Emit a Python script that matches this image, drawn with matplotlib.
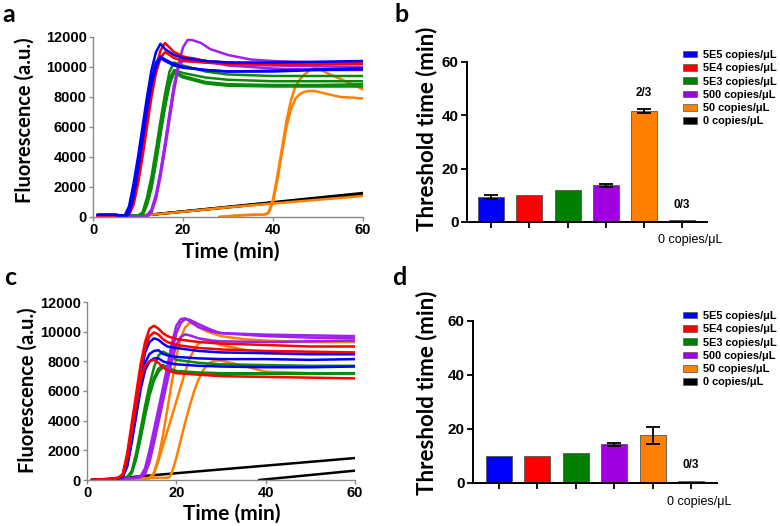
import matplotlib
matplotlib.use("Agg")
import matplotlib.pyplot as plt
from matplotlib.patches import Patch
from matplotlib.transforms import ScaledTranslation

# ---------------- data ----------------
series_names = ["5E5 copies/\u03bcL", "5E4 copies/\u03bcL", "5E3 copies/\u03bcL",
                "500 copies/\u03bcL", "50 copies/\u03bcL", "0 copies/\u03bcL"]
line_colors = ["#0000FF", "#FF0000", "#0A8A0A", "#A020F0", "#FF8000", "#000000"]
bar_colors = ["#0000FF", "#FF0000", "#008000", "#A000E0", "#FF8000", "#000000"]

# Panel a curves: (times, values) per replicate
a_blue = [
    ([1, 5, 7, 8, 9, 10, 11, 12, 13, 14, 15, 16, 18, 20, 25, 30, 40, 50, 60],
     [150, 150, 80, 700, 2200, 4000, 6000, 8000, 9800, 11000, 11550, 11200, 10800, 10600, 10400, 10300, 10300, 10350, 10400]),
    ([1, 5, 7, 8, 9, 10, 11, 12, 13, 14, 15, 16, 18, 20, 25, 30, 40, 50, 60],
     [150, 150, 50, 400, 1800, 3600, 5600, 7600, 9200, 10300, 10700, 10500, 10200, 10000, 9800, 9700, 9700, 9800, 9850]),
    ([1, 5, 7, 8, 9, 10, 11, 12, 13, 14, 15, 16, 18, 20, 25, 30, 40, 50, 60],
     [150, 150, 0, 200, 1300, 3100, 5100, 7100, 8800, 10000, 10600, 10400, 10100, 9950, 9800, 9700, 9750, 9850, 9900]),
]
a_red = [
    ([1, 5, 7, 8, 9, 10, 11, 12, 13, 14, 15, 16, 17, 18, 20, 25, 30, 40, 50, 60],
     [100, 100, 50, 200, 1000, 2500, 4400, 6400, 8400, 10000, 11100, 11600, 11300, 11000, 10700, 10400, 10300, 10200, 10200, 10250]),
    ([1, 5, 7, 8, 9, 10, 11, 12, 13, 14, 15, 16, 17, 18, 20, 25, 30, 40, 50, 60],
     [100, 100, 50, 150, 800, 2200, 4000, 6000, 8000, 9600, 10600, 11000, 10800, 10600, 10400, 10300, 10200, 10200, 10200, 10200]),
]
a_green = [
    ([1, 9, 10, 11, 12, 13, 14, 15, 16, 17, 18, 20, 25, 30, 40, 50, 60],
     [100, 100, 100, 300, 1300, 2700, 4500, 6400, 8200, 9700, 10300, 10100, 9700, 9500, 9400, 9400, 9400]),
    ([1, 9, 10, 11, 12, 13, 14, 15, 16, 17, 18, 20, 25, 30, 40, 50, 60],
     [100, 100, 80, 200, 1100, 2400, 4100, 6000, 7800, 9200, 9800, 9600, 9300, 9150, 9050, 9050, 9050]),
    ([1, 9, 10, 11, 12, 13, 14, 15, 16, 17, 18, 20, 25, 30, 40, 50, 60],
     [100, 100, 60, 150, 900, 2100, 3800, 5700, 7500, 9000, 9700, 9400, 9000, 8850, 8800, 8800, 8850]),
    ([1, 9, 10, 11, 12, 13, 14, 15, 16, 17, 18, 20, 25, 30, 40, 50, 60],
     [100, 100, 50, 100, 800, 1900, 3600, 5500, 7300, 8800, 9600, 9300, 8900, 8750, 8700, 8700, 8700]),
]
a_purple = [
    ([1, 10, 11, 12, 13, 14, 15, 16, 17, 18, 19, 20, 21, 22, 24, 26, 30, 35, 40, 50, 60],
     [50, 50, 50, 100, 500, 1500, 3000, 4800, 6700, 8600, 10200, 11300, 11800, 11800, 11600, 11200, 10800, 10500, 10400, 10300, 10300]),
    ([1, 10, 11, 12, 13, 14, 15, 16, 17, 18, 19, 20, 22, 25, 30, 40, 50, 60],
     [50, 50, 50, 50, 300, 1200, 2700, 4500, 6500, 8400, 10000, 10500, 10600, 10400, 10100, 9900, 9800, 9800]),
    ([1, 10, 11, 12, 13, 14, 15, 16, 17, 18, 19, 20, 22, 25, 30, 40, 50, 60],
     [50, 50, 50, 50, 400, 1400, 3000, 4900, 6900, 8800, 10100, 10400, 10400, 10300, 10200, 10100, 10050, 10000]),
]
a_orange = [
    ([28, 30, 33, 36, 38, 39, 40, 41, 42, 43, 44, 45, 46, 47, 48, 49, 50, 52, 55, 58, 60],
     [0, 50, 120, 150, 150, 300, 1200, 2800, 4600, 6400, 7800, 8700, 9200, 9500, 9750, 9900, 9900, 9600, 9200, 8800, 8500]),
    ([28, 30, 33, 36, 38, 39, 40, 41, 42, 43, 44, 45, 46, 47, 48, 49, 50, 52, 55, 58, 60],
     [0, 50, 120, 150, 150, 250, 1000, 2500, 4300, 6000, 7200, 7900, 8200, 8350, 8400, 8400, 8350, 8200, 8000, 7950, 7900]),
    ([11, 20, 30, 40, 50, 60],
     [100, 350, 650, 900, 1150, 1400]),
]
a_black = [
    ([11, 60], [100, 1600]),
    ([11, 60], [100, 1550]),
    ([11, 60], [100, 1500]),
]

# Panel c curves
c_blue = [
    ([1, 5, 7, 8, 9, 10, 11, 12, 13, 14, 15, 16, 17, 18, 20, 25, 30, 40, 50, 60],
     [0, 50, 100, 250, 1200, 3000, 5000, 7000, 8600, 9300, 9550, 9450, 9200, 9000, 8900, 8700, 8600, 8550, 8500, 8500]),
    ([1, 5, 7, 8, 9, 10, 11, 12, 13, 14, 15, 16, 17, 18, 20, 25, 30, 40, 50, 60],
     [0, 50, 100, 200, 1000, 2700, 4600, 6500, 7900, 8500, 8700, 8750, 8500, 8400, 8300, 8200, 8150, 8150, 8100, 8150]),
    ([1, 5, 7, 8, 9, 10, 11, 12, 13, 14, 15, 16, 17, 18, 20, 25, 30, 40, 50, 60],
     [0, 50, 100, 200, 900, 2500, 4300, 6100, 7400, 8000, 8200, 8200, 8000, 7900, 7800, 7700, 7650, 7600, 7600, 7650]),
]
c_red = [
    ([1, 5, 7, 8, 9, 10, 11, 12, 13, 14, 15, 16, 17, 18, 20, 25, 30, 40, 50, 60],
     [0, 50, 150, 400, 1800, 3800, 5800, 7800, 9300, 10200, 10400, 10200, 9900, 9700, 9500, 9300, 9200, 9100, 9000, 9000]),
    ([1, 5, 7, 8, 9, 10, 11, 12, 13, 14, 15, 16, 17, 18, 20, 25, 30, 40, 50, 60],
     [0, 50, 150, 350, 1600, 3500, 5500, 7400, 8900, 9700, 9950, 9800, 9500, 9300, 9100, 8900, 8800, 8700, 8650, 8600]),
    ([1, 5, 7, 8, 9, 10, 11, 12, 13, 14, 15, 16, 17, 18, 20, 25, 30, 40, 50, 60],
     [0, 50, 150, 300, 1400, 3200, 5000, 6700, 7700, 8000, 8100, 7900, 7600, 7400, 7200, 7100, 7000, 6950, 6900, 6850]),
]
c_green = [
    ([1, 5, 8, 9, 10, 11, 12, 13, 14, 15, 16, 17, 18, 19, 20, 25, 30, 40, 50, 60],
     [0, 50, 150, 200, 600, 1800, 3400, 5000, 6400, 7600, 8400, 8650, 8500, 8300, 8100, 7900, 7800, 7750, 7700, 7700]),
    ([1, 5, 8, 9, 10, 11, 12, 13, 14, 15, 16, 17, 18, 19, 20, 25, 30, 40, 50, 60],
     [0, 50, 150, 200, 500, 1500, 3000, 4500, 5900, 6900, 7500, 7750, 7600, 7450, 7350, 7250, 7200, 7200, 7200, 7200]),
    ([1, 5, 8, 9, 10, 11, 12, 13, 14, 15, 16, 17, 18, 19, 20, 25, 30, 40, 50, 60],
     [0, 50, 150, 200, 450, 1400, 2800, 4300, 5700, 6700, 7300, 7600, 7500, 7350, 7250, 7200, 7150, 7150, 7150, 7180]),
]
c_purple = [
    ([1, 8, 11, 12, 13, 14, 15, 16, 17, 18, 19, 20, 21, 22, 23, 25, 28, 30, 40, 50, 60],
     [0, 100, 150, 250, 800, 2000, 3400, 4800, 6200, 7700, 9200, 10400, 10850, 10900, 10700, 10300, 10000, 9900, 9800, 9750, 9700]),
    ([1, 8, 11, 12, 13, 14, 15, 16, 17, 18, 19, 20, 21, 22, 23, 25, 28, 30, 40, 50, 60],
     [0, 100, 150, 200, 500, 1400, 2800, 4200, 5700, 7100, 8600, 9900, 10600, 10850, 10800, 10500, 10100, 9900, 9700, 9600, 9550]),
    ([1, 8, 11, 12, 13, 14, 15, 16, 17, 18, 19, 20, 21, 22, 23, 25, 28, 30, 40, 50, 60],
     [0, 100, 150, 200, 400, 1200, 2500, 3900, 5300, 6700, 8000, 9100, 9650, 9820, 9750, 9550, 9400, 9350, 9300, 9350, 9400]),
]
c_orange = [
    ([1, 10, 13, 14, 15, 16, 17, 18, 19, 20, 21, 22, 23, 24, 25, 27, 30, 35, 40, 50, 60],
     [0, 100, 100, 150, 500, 1500, 3000, 4800, 6600, 8300, 9600, 10300, 10600, 10500, 10300, 10000, 9700, 9500, 9400, 9300, 9300]),
    ([1, 10, 14, 15, 16, 17, 18, 19, 20, 21, 22, 23, 24, 25, 26, 28, 30, 35, 40, 50, 60],
     [0, 100, 100, 400, 1300, 2300, 3300, 4300, 5300, 6300, 7300, 8200, 8800, 9200, 9350, 9300, 9100, 8800, 8550, 8450, 8450]),
    ([1, 10, 15, 18, 18.5, 19, 20, 21, 22, 23, 24, 25, 26, 27, 28, 29, 30, 35, 40, 50, 60],
     [0, 100, 150, 150, 200, 500, 1500, 2700, 3900, 5000, 6000, 6800, 7400, 7800, 8000, 8050, 8050, 7700, 7300, 7200, 7200]),
]
c_black = [
    ([1, 8, 60], [0, 150, 1480]),
    ([38.5, 60], [0, 630]),
]

# Panel b / d bar data
bar_labels = ["", "", "", "", "", "0 copies/\u03bcL"]
b_means = [9.3, 10.1, 12.0, 13.8, 41.6, 0.8]
b_errs = [0.7, 0.0, 0.0, 0.6, 0.8, 0.0]
b_notes = {4: "2/3", 5: "0/3"}
d_means = [10.0, 10.0, 11.0, 14.3, 17.6, 0.8]
d_errs = [0.0, 0.0, 0.0, 0.6, 3.0, 0.0]
d_notes = {5: "0/3"}

curve_ticks_x = [0, 20, 40, 60]
curve_ticks_y = [0, 2000, 4000, 6000, 8000, 10000, 12000]
bar_ticks_y = [0, 20, 40, 60]

# ---------------- drawing ----------------
W, H = 780, 526
fig = plt.figure(figsize=(W / 100, H / 100), dpi=100)

def px_axes(l, r, t, b):
    return fig.add_axes([l / W, 1 - b / H, (r - l) / W, (b - t) / H])

LABEL_FONT = "Lato"
TICK_FONT = "Liberation Sans"

def curve_panel(ax, groups, ylab_xy, xlab_xy):
    for color, curves in groups:
        for t, v in curves:
            ax.plot(t, v, color=color, lw=1.8, solid_capstyle="round", solid_joinstyle="round")
    ax.set_xlim(0, 60)
    ax.set_ylim(0, 12000)
    ax.set_xticks(curve_ticks_x)
    ax.set_yticks(curve_ticks_y)
    for s in ["top", "right"]:
        ax.spines[s].set_visible(False)
    for s in ["left", "bottom"]:
        ax.spines[s].set_color("#8a8a8a")
        ax.spines[s].set_linewidth(1.0)
    ax.tick_params(direction="out", length=3, width=1.0, color="#8a8a8a", pad=1.5)
    for lab in ax.get_xticklabels() + ax.get_yticklabels():
        lab.set_fontfamily(TICK_FONT)
        lab.set_fontweight("bold")
        lab.set_fontsize(10.5)
    ax.set_ylabel("Fluorescence (a.u.)", fontfamily=LABEL_FONT, fontweight="bold", fontsize=14.5)
    ax.set_xlabel("Time (min)", fontfamily=LABEL_FONT, fontweight="bold", fontsize=15)
    ax.yaxis.set_label_coords(*ylab_xy)
    ax.xaxis.set_label_coords(*xlab_xy)
    ax.xaxis.label.set_va("top")

def bar_panel(ax, means, errs, notes, xlim, ylab_xy, leg_xy):
    x = list(range(len(means)))
    ax.bar(x, means, width=0.68, color=bar_colors, edgecolor="#555555", linewidth=0.6, zorder=2)
    for i, (m, e) in enumerate(zip(means, errs)):
        if e > 0:
            ax.errorbar(i, m, yerr=e, color="black", capsize=5, capthick=1.3, elinewidth=1.3, zorder=3)
    for i, s in notes.items():
        ax.text(i, means[i] + errs[i] + 3.5, s, ha="center", va="bottom",
                fontfamily=TICK_FONT, fontweight="bold", fontsize=8.5)
    ax.set_xlim(*xlim)
    ax.set_ylim(0, 60)
    ax.set_yticks(bar_ticks_y)
    ax.set_xticks(x)
    ax.set_xticklabels(bar_labels, fontfamily=TICK_FONT, fontsize=9)
    for s in ["top", "right"]:
        ax.spines[s].set_visible(False)
    ax.spines["left"].set_linewidth(1.4)
    ax.spines["bottom"].set_linewidth(1.4)
    ax.tick_params(axis="y", direction="out", length=4, width=1.3, pad=2)
    ax.tick_params(axis="x", direction="out", length=4, width=1.3, pad=5)
    for lab in ax.get_yticklabels():
        lab.set_fontfamily(TICK_FONT)
        lab.set_fontweight("bold")
        lab.set_fontsize(11)
    # nudge the last category label slightly to the right, as in the original
    last = ax.get_xticklabels()[-1]
    last.set_transform(last.get_transform() + ScaledTranslation(8 / 100, 0, fig.dpi_scale_trans))
    ax.set_ylabel("Threshold time (min)", fontfamily=LABEL_FONT, fontweight="bold", fontsize=16)
    ax.yaxis.set_label_coords(*ylab_xy)
    handles = [Patch(facecolor=c, edgecolor="#555555", linewidth=0.5) for c in bar_colors]
    ax.legend(handles, series_names, loc="upper left", bbox_to_anchor=(leg_xy[0] / W, 1 - leg_xy[1] / H),
              bbox_transform=fig.transFigure, frameon=False, borderpad=0, borderaxespad=0,
              handlelength=1.3, handleheight=0.55, handletextpad=0.5, labelspacing=0.3,
              prop={"family": TICK_FONT, "weight": "bold", "size": 7.9})

ax_a = px_axes(93, 363, 37, 217)
curve_panel(ax_a,
            [(line_colors[5], a_black), (line_colors[4], a_orange), (line_colors[2], a_green),
             (line_colors[3], a_purple), (line_colors[1], a_red), (line_colors[0], a_blue)],
            (-0.215, 0.54), (0.511, -0.135))

ax_c = px_axes(87, 355, 302, 480)
curve_panel(ax_c,
            [(line_colors[5], c_black), (line_colors[4], c_orange), (line_colors[2], c_green),
             (line_colors[3], c_purple), (line_colors[0], c_blue), (line_colors[1], c_red)],
            (-0.183, 0.506), (0.541, -0.135))

ax_b = px_axes(467, 707, 61.7, 222)
bar_panel(ax_b, b_means, b_errs, b_notes, (-0.63, 5.65), (-0.125, 0.583), (683, 50))

ax_d = px_axes(473, 717, 321, 483)
bar_panel(ax_d, d_means, d_errs, d_notes, (-0.68, 5.68), (-0.148, 0.556), (683, 311))

for s, (x, y) in zip("abcd", [(2, 3), (394, 3), (4, 266), (392, 266)]):
    fig.text(x / W, 1 - y / H, s, ha="left", va="top", fontfamily=LABEL_FONT,
             fontweight="bold", fontsize=18)

fig.savefig("out.png", dpi=100)
